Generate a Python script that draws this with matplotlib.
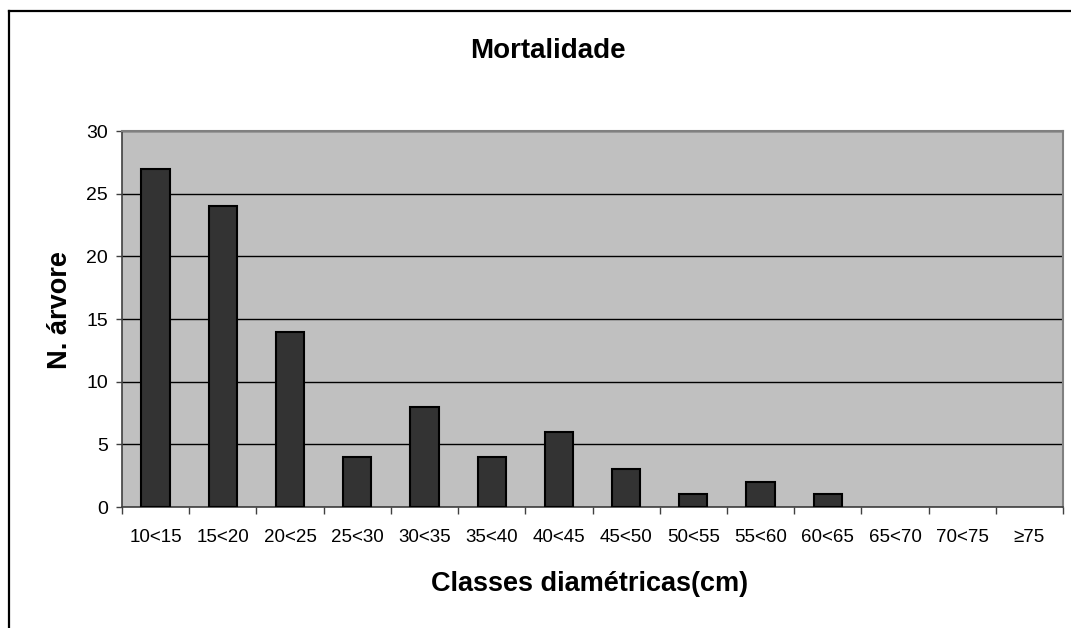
import numpy as np
import matplotlib.pyplot as plt
from matplotlib.lines import Line2D

plt.rcParams['font.family'] = ['Liberation Sans', 'DejaVu Sans']

classes = ['10<15', '15<20', '20<25', '25<30', '30<35', '35<40', '40<45',
           '45<50', '50<55', '55<60', '60<65', '65<70', '70<75', '\u226575']
n_arvores = [27, 24, 14, 4, 8, 4, 6, 3, 1, 2, 1, 0, 0, 0]
y_ticks = [0, 5, 10, 15, 20, 25, 30]

W, H = 1071, 628
fig = plt.figure(figsize=(W / 100, H / 100), dpi=100)
fig.patch.set_facecolor('white')

# plot area in pixel units
left, top, right, bottom = 122, 131, 1063, 507
ax = fig.add_axes([left / W, 1 - bottom / H, (right - left) / W, (bottom - top) / H])
ax.set_facecolor('#c0c0c0')

x = np.arange(len(classes))
edge_w = [1.5 if v > 0 else 0 for v in n_arvores]
ax.bar(x, n_arvores, width=0.42, color='#333333', edgecolor='black',
       linewidth=edge_w, zorder=3)

ax.set_xlim(-0.5, len(classes) - 0.5)
ax.set_ylim(0, 30)
ax.set_yticks(y_ticks)
ax.yaxis.grid(True, color='black', linewidth=1.0, zorder=1)
ax.set_axisbelow(True)

ax.set_xticks(x)
ax.set_xticklabels(classes, fontsize=13.5)
ax.set_xticks(np.arange(len(classes) + 1) - 0.5, minor=True)
ax.tick_params(axis='x', which='major', length=0, pad=16, colors='black')
ax.tick_params(axis='x', which='minor', length=5, width=1, color='#404040')
ax.tick_params(axis='y', length=4, width=1, color='#404040', pad=6, labelsize=14)

for side in ['left', 'bottom']:
    ax.spines[side].set_color('#404040')
    ax.spines[side].set_linewidth(1.2)
for side in ['top', 'right']:
    ax.spines[side].set_color('#808080')
    ax.spines[side].set_linewidth(1.5)

fig.text(548 / W, 1 - 51 / H, 'Mortalidade', ha='center', va='center',
         fontsize=20, fontweight='bold')
fig.text(590 / W, 1 - 584 / H, 'Classes diamétricas(cm)', ha='center',
         va='center', fontsize=19.5, fontweight='bold')
fig.text(60 / W, 1 - 310 / H, 'N. árvore', ha='center', va='center',
         rotation=90, fontsize=19.5, fontweight='bold')

# chart frame (left and top edges)
fig.add_artist(Line2D([9 / W, 9 / W], [0, 1 - 11 / H], color='black', linewidth=1.6))
fig.add_artist(Line2D([9 / W, 1], [1 - 11 / H, 1 - 11 / H], color='black', linewidth=1.6))

fig.savefig('out.png', dpi=100)
